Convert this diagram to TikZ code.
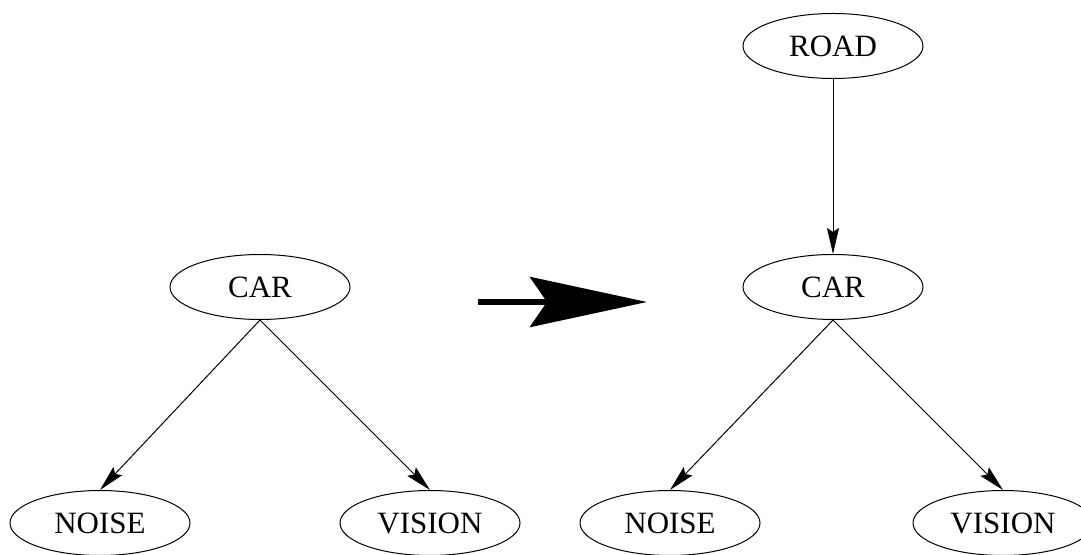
\documentclass[tikz,border=0pt]{standalone}
\usepackage{fontspec}
\setmainfont{Liberation Serif}
\usetikzlibrary{shapes.geometric}
\usetikzlibrary{arrows.meta}

\begin{document}
\begin{tikzpicture}[x=1pt, y=1pt,
  var/.style={draw, ellipse, line width=1pt, minimum width=180pt, minimum height=65pt, inner sep=0pt, font=\fontsize{31}{37}\selectfont},
  link/.style={line width=1pt, -{Stealth[length=26pt, width=12pt, inset=4pt]}}]
\useasboundingbox (0,0) rectangle (1081,554);
\node[var] (carA) at (260,267) {CAR};
\node[var] (noiseA) at (100,31) {NOISE};
\node[var] (visionA) at (430,31) {VISION};
\node[var] (road) at (833,508) {ROAD};
\node[var] (carB) at (833,267) {CAR};
\node[var] (noiseB) at (670,31) {NOISE};
\node[var] (visionB) at (1003,31) {VISION};
\coordinate (bigtail) at (478,252);
\coordinate (bighead) at (647,252);

\draw[line width=6pt, -{Stealth[length=117pt, width=50pt, inset=17pt]}] (bigtail) -- (bighead);
\draw[link] (carA.south) -- (noiseA.north);
\draw[link] (carA.south) -- (visionA.north);
\draw[link] (road) -- (carB);
\draw[link] (carB.south) -- (noiseB.north);
\draw[link] (carB.south) -- (visionB.north);
\end{tikzpicture}
\end{document}
